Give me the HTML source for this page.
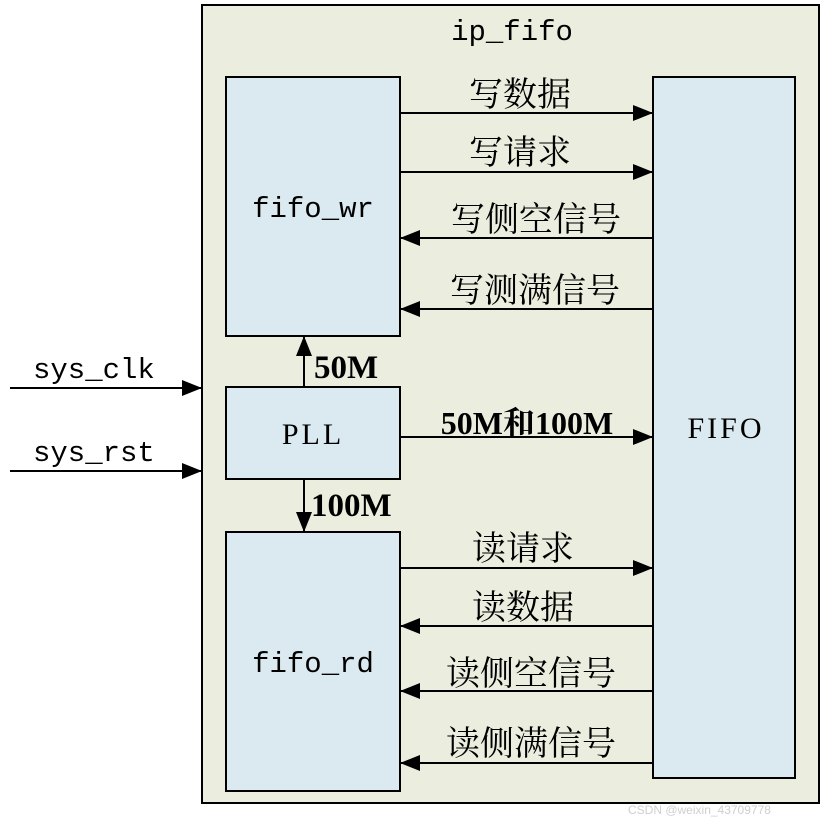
<!DOCTYPE html>
<html><head><meta charset="utf-8"><style>
body{margin:0;background:#fff;}
svg text{font-family:"Liberation Serif","Noto Serif CJK SC",serif;fill:#000;}
svg text.m{font-family:"Liberation Mono",monospace;}
</style></head><body>
<svg width="824" height="824" xmlns="http://www.w3.org/2000/svg">
<defs>
<marker id="b" viewBox="0 0 20 16" markerWidth="20" markerHeight="16" refX="20" refY="8" orient="auto" markerUnits="userSpaceOnUse"><path d="M0,0 L20,8 L0,16 Z"/></marker></defs>
<rect x="202" y="5" width="617" height="798" fill="#ebeedf" stroke="#000" stroke-width="2"/>
<text class="m" x="512" y="40" font-size="29" text-anchor="middle">ip_fifo</text>
<g fill="#dbeaf1" stroke="#000" stroke-width="2">
<rect x="226" y="77" width="174" height="259"/>
<rect x="226" y="387" width="174" height="92"/>
<rect x="226" y="532" width="174" height="259"/>
<rect x="653" y="77" width="142" height="701"/>
</g>
<text class="m" x="313" y="217" font-size="29" text-anchor="middle">fifo_wr</text>
<text class="m" x="313" y="672" font-size="29" text-anchor="middle">fifo_rd</text>
<text x="313" y="444" font-size="30" text-anchor="middle" letter-spacing="3">PLL</text>
<text x="726" y="438" font-size="30" text-anchor="middle" letter-spacing="3">FIFO</text>
<g stroke="#000" stroke-width="2" marker-end="url(#b)">
<line x1="400" y1="113" x2="653" y2="113"/>
<line x1="400" y1="172" x2="653" y2="172"/>
<line x1="653" y1="238" x2="400" y2="238"/>
<line x1="653" y1="309" x2="400" y2="309"/>
<line x1="400" y1="437" x2="653" y2="437"/>
<line x1="400" y1="568" x2="653" y2="568"/>
<line x1="653" y1="626" x2="400" y2="626"/>
<line x1="653" y1="691" x2="400" y2="691"/>
<line x1="653" y1="763" x2="400" y2="763"/>
<line x1="304" y1="387" x2="304" y2="336"/>
<line x1="304" y1="479" x2="304" y2="532"/>
<line x1="10" y1="388" x2="202" y2="388"/>
<line x1="10" y1="471" x2="202" y2="471"/>
</g>
<g font-size="34" text-anchor="middle">
<text x="520" y="106">写数据</text>
<text x="520" y="164">写请求</text>
<text x="536" y="231">写侧空信号</text>
<text x="535" y="302">写测满信号</text>
<text x="523" y="560">读请求</text>
<text x="523" y="619">读数据</text>
<text x="531" y="685">读侧空信号</text>
<text x="531" y="755">读侧满信号</text>
</g>
<text x="527" y="434" font-weight="bold" font-size="32" text-anchor="middle">50M和100M</text>
<g font-size="33" font-weight="bold">
<text x="314" y="378">50M</text>
<text x="311" y="516">100M</text>
</g>
<text class="m" x="33" y="378" font-size="29">sys_clk</text>
<text class="m" x="33" y="461" font-size="29">sys_rst</text>
<text x="628" y="814" font-size="12" style="fill:#cfcfcf;font-family:'Liberation Sans',sans-serif">CSDN @weixin_43709778</text>
</svg>
</body></html>
